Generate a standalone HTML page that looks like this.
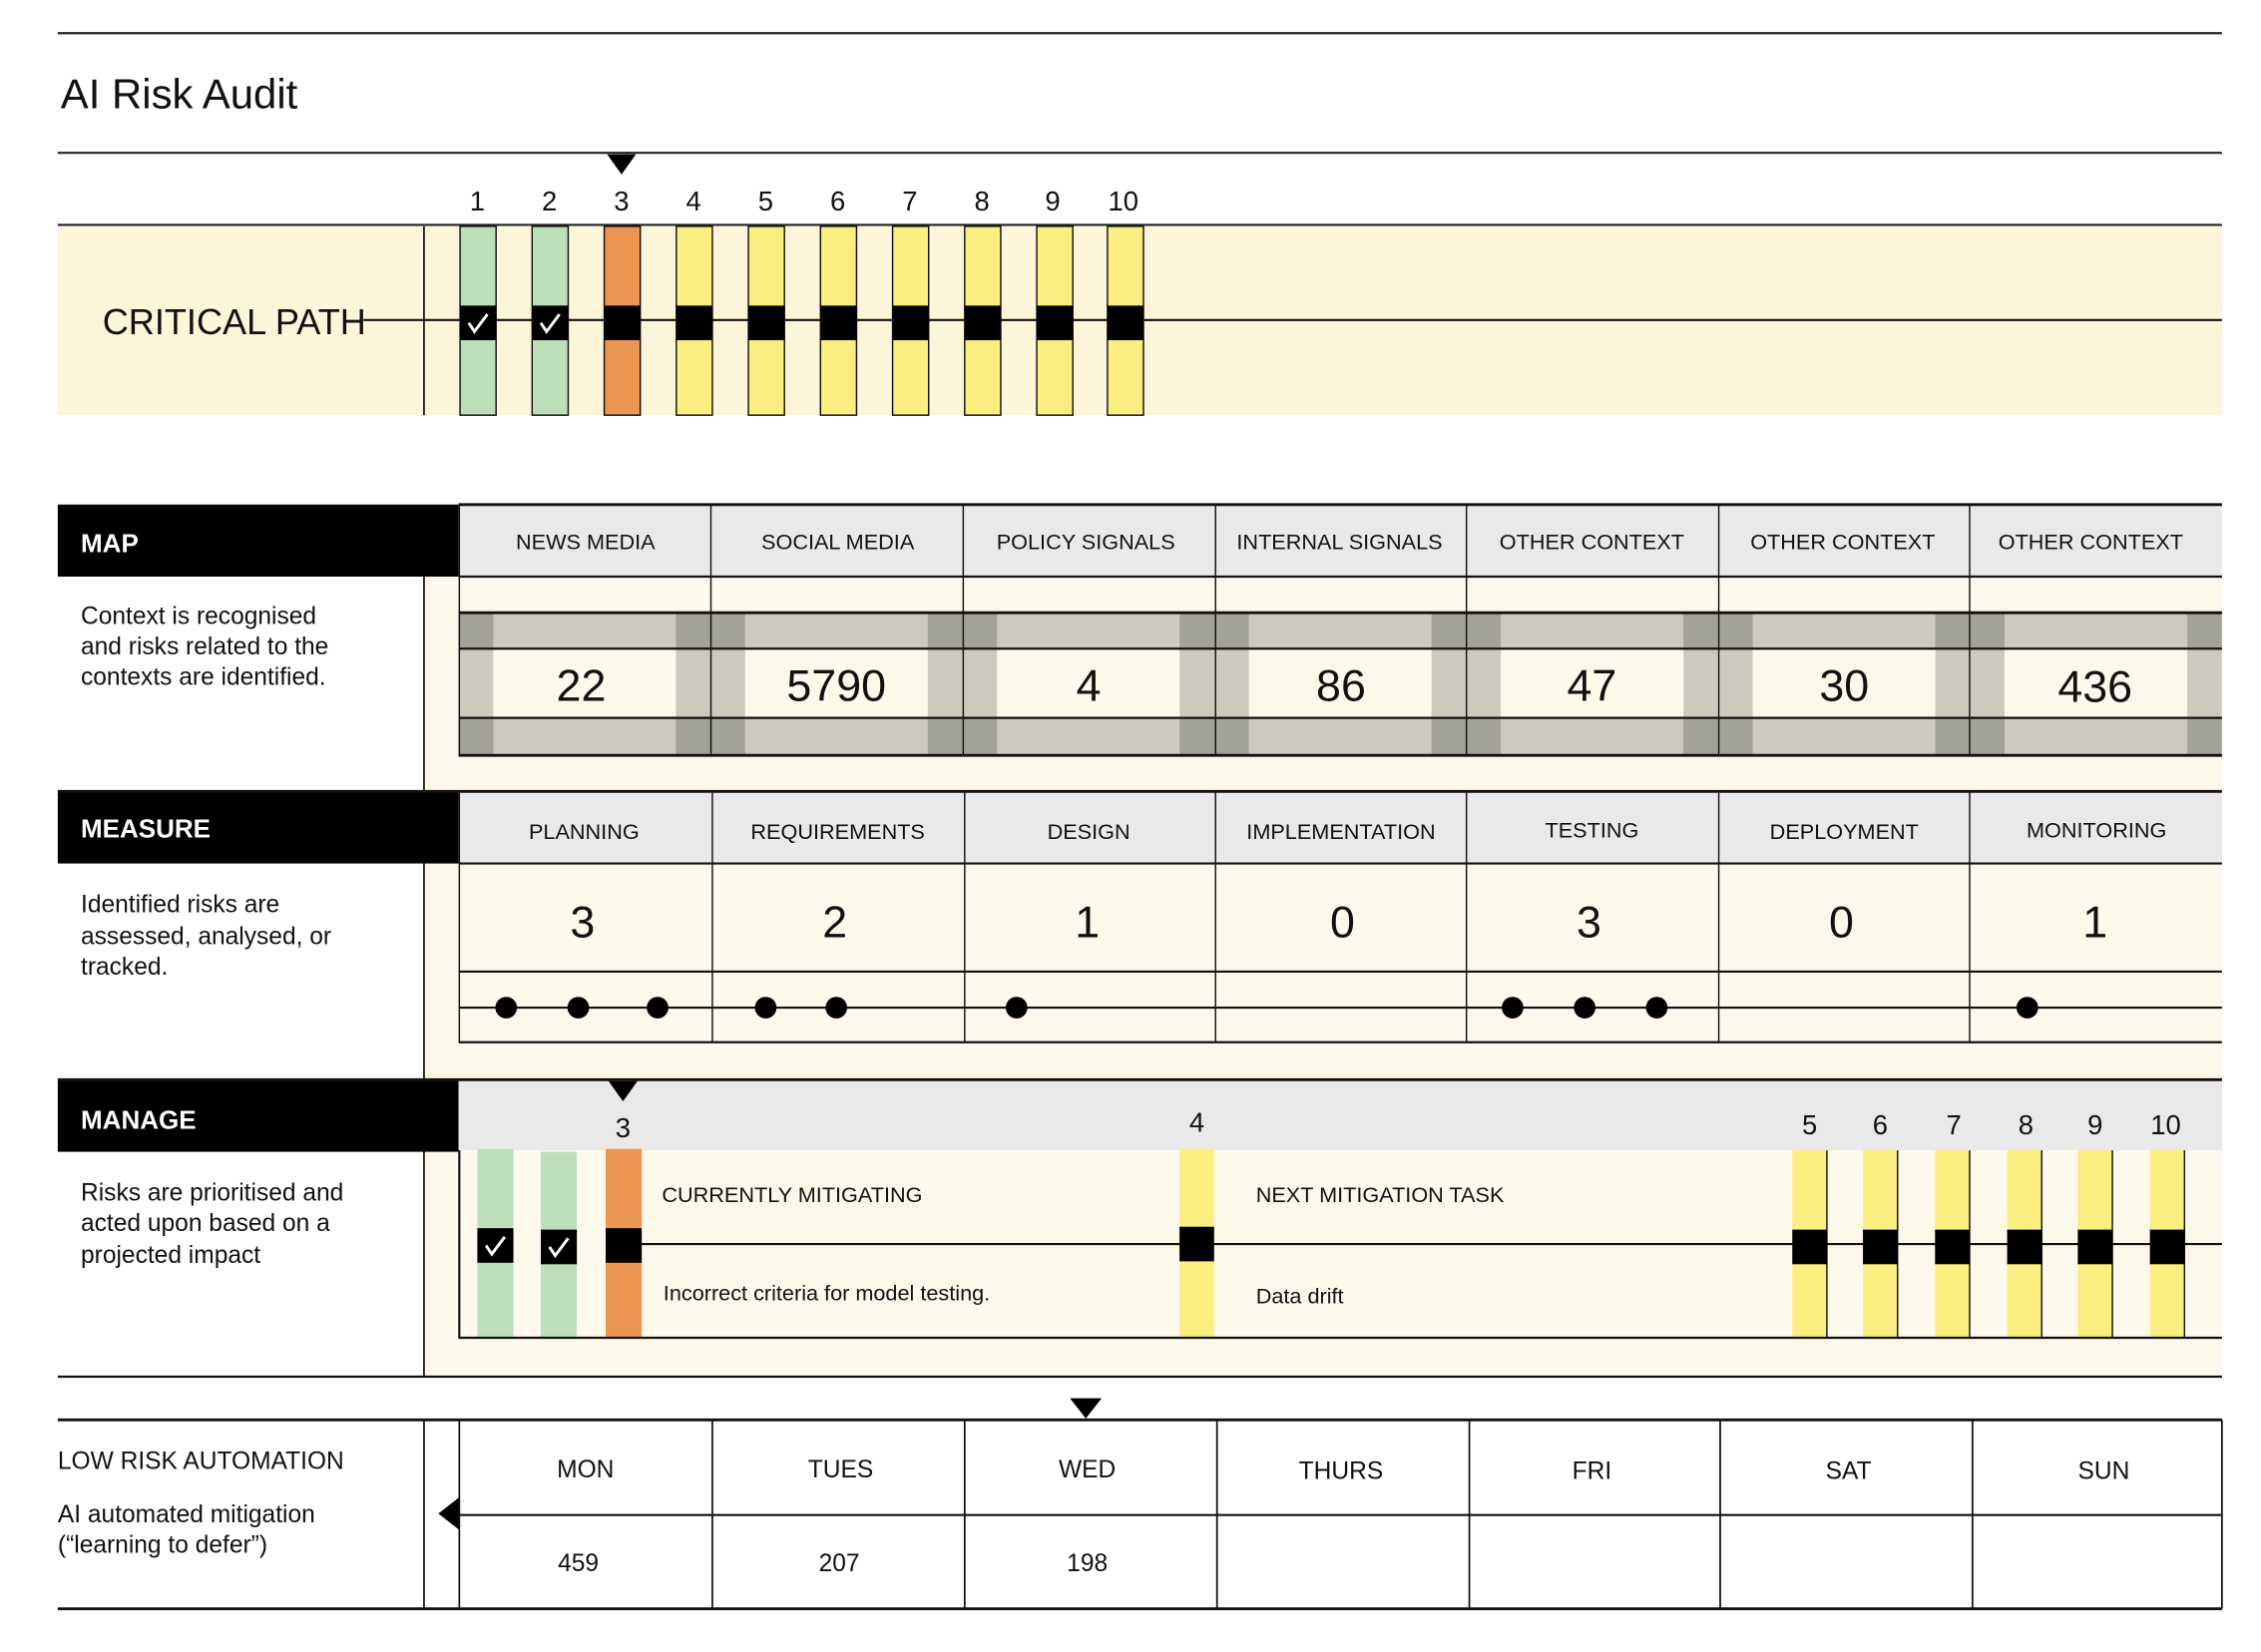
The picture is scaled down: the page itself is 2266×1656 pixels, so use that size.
<!DOCTYPE html>
<html><head><meta charset="utf-8"><style>
html,body{margin:0;padding:0;background:#fff}
svg{display:block}
text{font-family:"Liberation Sans",Arial,sans-serif;fill:#111}
</style></head><body>
<svg width="2266" height="1656" viewBox="0 0 1568 1146" xmlns="http://www.w3.org/2000/svg">
<defs>
<g id="mc">
<rect x="0" y="425" width="174.7" height="25" fill="#cccabc"/>
<rect x="0" y="425" width="24" height="25" fill="#a3a296"/>
<rect x="150.7" y="425" width="24" height="25" fill="#a3a296"/>
<rect x="0" y="450" width="24" height="48" fill="#cccabc"/>
<rect x="150.7" y="450" width="24" height="48" fill="#cccabc"/>
<rect x="0" y="498" width="174.7" height="26" fill="#cccabc"/>
<rect x="0" y="498" width="24" height="26" fill="#a3a296"/>
<rect x="150.7" y="498" width="24" height="26" fill="#a3a296"/>
</g>
</defs>
<rect width="1568" height="1146" fill="#fff"/>
<!-- top -->
<line x1="40" y1="23" x2="1541" y2="23" stroke="#222" stroke-width="1.5"/>
<text x="42" y="75" font-size="29">AI Risk Audit</text>
<line x1="40" y1="106" x2="1541" y2="106" stroke="#222" stroke-width="1.5"/>
<polygon points="421,107 441,107 431,121" fill="#000"/>
<g font-size="19" text-anchor="middle">
<text x="331" y="146">1</text><text x="381" y="146">2</text><text x="431" y="146">3</text><text x="481" y="146">4</text><text x="531" y="146">5</text><text x="581" y="146">6</text><text x="631" y="146">7</text><text x="681" y="146">8</text><text x="730" y="146">9</text><text x="779" y="146">10</text>
</g>
<line x1="40" y1="156" x2="1541" y2="156" stroke="#222" stroke-width="1.5"/>
<rect x="40" y="157" width="1501" height="131" fill="#fdf5d9"/>
<line x1="294" y1="157" x2="294" y2="288" stroke="#111" stroke-width="1.2"/>
<line x1="252" y1="222" x2="1541" y2="222" stroke="#111" stroke-width="1.5"/>
<text x="71" y="232" font-size="25">CRITICAL PATH</text>
<g stroke="#111" stroke-width="1">
<rect x="319" y="157" width="25" height="131" fill="#bcdfb9"/>
<rect x="369" y="157" width="25" height="131" fill="#bcdfb9"/>
<rect x="419" y="157" width="25" height="131" fill="#eb9552"/>
<rect x="469" y="157" width="25" height="131" fill="#fbee81"/>
<rect x="519" y="157" width="25" height="131" fill="#fbee81"/>
<rect x="569" y="157" width="25" height="131" fill="#fbee81"/>
<rect x="619" y="157" width="25" height="131" fill="#fbee81"/>
<rect x="669" y="157" width="25" height="131" fill="#fbee81"/>
<rect x="719" y="157" width="25" height="131" fill="#fbee81"/>
<rect x="768" y="157" width="25" height="131" fill="#fbee81"/>
</g>
<g fill="#000">
<rect x="319" y="212" width="25" height="24"/><rect x="369" y="212" width="25" height="24"/><rect x="419" y="212" width="25" height="24"/><rect x="469" y="212" width="25" height="24"/><rect x="519" y="212" width="25" height="24"/><rect x="569" y="212" width="25" height="24"/><rect x="619" y="212" width="25" height="24"/><rect x="669" y="212" width="25" height="24"/><rect x="719" y="212" width="25" height="24"/><rect x="768" y="212" width="25" height="24"/>
</g>
<path d="M325 224 l4 6 l9 -12 M375 224 l4 6 l9 -12" stroke="#fff" stroke-width="2" fill="none"/>

<!-- cream body area -->
<rect x="294" y="400" width="1247" height="555" fill="#fdf9ea"/>
<line x1="294" y1="400" x2="294" y2="955" stroke="#111" stroke-width="1.2"/>

<!-- MAP -->
<rect x="40" y="350" width="278" height="50" fill="#000"/>
<text x="56" y="383" font-size="18" font-weight="bold" style="fill:#fff">MAP</text>
<rect x="318" y="350" width="1223" height="50" fill="#e9e9e9"/>
<use href="#mc" x="318"/><use href="#mc" x="492.7"/><use href="#mc" x="667.4"/><use href="#mc" x="842.1"/><use href="#mc" x="1016.8"/><use href="#mc" x="1191.5"/><use href="#mc" x="1366.2"/>
<g stroke="#111">
<line x1="318" y1="350" x2="1541" y2="350" stroke-width="2"/>
<line x1="318" y1="400" x2="1541" y2="400" stroke-width="1.5"/>
<line x1="318" y1="425" x2="1541" y2="425" stroke-width="2"/>
<line x1="318" y1="450" x2="1541" y2="450" stroke-width="1.5"/>
<line x1="318" y1="498" x2="1541" y2="498" stroke-width="1.5"/>
<line x1="318" y1="524" x2="1541" y2="524" stroke-width="2"/>
<g stroke-width="1">
<line x1="318.5" y1="350" x2="318.5" y2="524"/><line x1="493" y1="350" x2="493" y2="524"/><line x1="668" y1="350" x2="668" y2="524"/><line x1="843" y1="350" x2="843" y2="524"/><line x1="1017" y1="350" x2="1017" y2="524"/><line x1="1192" y1="350" x2="1192" y2="524"/><line x1="1366" y1="350" x2="1366" y2="524"/>
</g>
</g>
<g font-size="15" text-anchor="middle">
<text x="406" y="381">NEWS MEDIA</text><text x="581" y="381">SOCIAL MEDIA</text><text x="753" y="381">POLICY SIGNALS</text><text x="929" y="381">INTERNAL SIGNALS</text><text x="1104" y="381">OTHER CONTEXT</text><text x="1278" y="381">OTHER CONTEXT</text><text x="1450" y="381">OTHER CONTEXT</text>
</g>
<g font-size="31" text-anchor="middle">
<text x="403" y="486">22</text><text x="580" y="486">5790</text><text x="755" y="486">4</text><text x="930" y="486">86</text><text x="1104" y="486">47</text><text x="1279" y="486">30</text><text x="1453" y="487">436</text>
</g>
<g font-size="17">
<text x="56" y="433">Context is recognised</text><text x="56" y="454">and risks related to the</text><text x="56" y="475">contexts are identified.</text>
</g>

<!-- MEASURE -->
<rect x="40" y="549" width="278" height="50" fill="#000"/>
<text x="56" y="581" font-size="18" font-weight="bold" style="fill:#fff">MEASURE</text>
<rect x="318" y="549" width="1223" height="50" fill="#e9e9e9"/>
<g stroke="#111">
<line x1="40" y1="549" x2="1541" y2="549" stroke-width="2"/>
<line x1="318" y1="599" x2="1541" y2="599" stroke-width="1.5"/>
<line x1="318" y1="674" x2="1541" y2="674" stroke-width="1.5"/>
<line x1="318" y1="699" x2="1541" y2="699" stroke-width="1.5"/>
<line x1="318" y1="723" x2="1541" y2="723" stroke-width="1.5"/>
<g stroke-width="1">
<line x1="318.5" y1="549" x2="318.5" y2="723"/><line x1="494" y1="549" x2="494" y2="723"/><line x1="669" y1="549" x2="669" y2="723"/><line x1="843" y1="549" x2="843" y2="723"/><line x1="1017" y1="549" x2="1017" y2="723"/><line x1="1192" y1="549" x2="1192" y2="723"/><line x1="1366" y1="549" x2="1366" y2="723"/>
</g>
</g>
<g font-size="15" text-anchor="middle">
<text x="405" y="582">PLANNING</text><text x="581" y="582">REQUIREMENTS</text><text x="755" y="582">DESIGN</text><text x="930" y="582">IMPLEMENTATION</text><text x="1104" y="581">TESTING</text><text x="1279" y="582">DEPLOYMENT</text><text x="1454" y="581">MONITORING</text>
</g>
<g font-size="31" text-anchor="middle">
<text x="404" y="650">3</text><text x="579" y="650">2</text><text x="754" y="650">1</text><text x="931" y="650">0</text><text x="1102" y="650">3</text><text x="1277" y="650">0</text><text x="1453" y="650">1</text>
</g>
<g fill="#000">
<circle cx="351" cy="699" r="7.5"/><circle cx="401" cy="699" r="7.5"/><circle cx="456" cy="699" r="7.5"/><circle cx="531" cy="699" r="7.5"/><circle cx="580" cy="699" r="7.5"/><circle cx="705" cy="699" r="7.5"/><circle cx="1049" cy="699" r="7.5"/><circle cx="1099" cy="699" r="7.5"/><circle cx="1149" cy="699" r="7.5"/><circle cx="1406" cy="699" r="7.5"/>
</g>
<g font-size="17">
<text x="56" y="633">Identified risks are</text><text x="56" y="655">assessed, analysed, or</text><text x="56" y="676">tracked.</text>
</g>

<!-- MANAGE -->
<rect x="40" y="749" width="278" height="50" fill="#000"/>
<text x="56" y="783" font-size="18" font-weight="bold" style="fill:#fff">MANAGE</text>
<rect x="318" y="749" width="1223" height="49" fill="#e9e9e9"/>
<line x1="40" y1="749" x2="1541" y2="749" stroke="#111" stroke-width="2"/>
<polygon points="422,750 442,750 432,764" fill="#000"/>
<g font-size="19" text-anchor="middle">
<text x="432" y="789">3</text><text x="830" y="785">4</text><text x="1255" y="787">5</text><text x="1304" y="787">6</text><text x="1355" y="787">7</text><text x="1405" y="787">8</text><text x="1453" y="787">9</text><text x="1502" y="787">10</text>
</g>
<rect x="331" y="797" width="25" height="131" fill="#bcdfb9"/>
<rect x="375" y="799" width="25" height="129" fill="#bcdfb9"/>
<rect x="420" y="797" width="25" height="131" fill="#eb9552"/>
<rect x="818" y="797" width="24" height="131" fill="#fbee81"/>
<g fill="#fbee81" stroke="#111" stroke-width="1">
<path d="M1243 798 h24 v130 h-24 z" stroke="none"/><line x1="1267" y1="798" x2="1267" y2="928"/>
<path d="M1292 798 h24 v130 h-24 z" stroke="none"/><line x1="1316" y1="798" x2="1316" y2="928"/>
<path d="M1342 798 h24 v130 h-24 z" stroke="none"/><line x1="1366" y1="798" x2="1366" y2="928"/>
<path d="M1392 798 h24 v130 h-24 z" stroke="none"/><line x1="1416" y1="798" x2="1416" y2="928"/>
<path d="M1441 798 h24 v130 h-24 z" stroke="none"/><line x1="1465" y1="798" x2="1465" y2="928"/>
<path d="M1491 798 h24 v130 h-24 z" stroke="none"/><line x1="1515" y1="798" x2="1515" y2="928"/>
</g>
<line x1="445" y1="863" x2="1541" y2="863" stroke="#111" stroke-width="1.5"/>
<g fill="#000">
<rect x="331" y="852" width="25" height="24"/><rect x="375" y="853" width="25" height="24"/><rect x="420" y="852" width="25" height="24"/><rect x="818" y="851" width="24" height="24"/>
<rect x="1243" y="853" width="24" height="24"/><rect x="1292" y="853" width="24" height="24"/><rect x="1342" y="853" width="24" height="24"/><rect x="1392" y="853" width="24" height="24"/><rect x="1441" y="853" width="24" height="24"/><rect x="1491" y="853" width="24" height="24"/>
</g>
<path d="M337 864 l4 6 l9 -12 M381 865 l4 6 l9 -12" stroke="#fff" stroke-width="2" fill="none"/>
<path d="M318.5 798 V928 H1541" stroke="#111" stroke-width="1.5" fill="none"/>
<g font-size="15">
<text x="459" y="834">CURRENTLY MITIGATING</text><text x="460" y="902">Incorrect criteria for model testing.</text>
<text x="871" y="834">NEXT MITIGATION TASK</text><text x="871" y="904">Data drift</text>
</g>
<g font-size="17">
<text x="56" y="833">Risks are prioritised and</text><text x="56" y="854">acted upon based on a</text><text x="56" y="876">projected impact</text>
</g>
<line x1="40" y1="955" x2="1541" y2="955" stroke="#111" stroke-width="1.5"/>

<!-- LOW RISK -->
<polygon points="742,970 764,970 753,984" fill="#000"/>
<g stroke="#111">
<line x1="40" y1="985" x2="1541" y2="985" stroke-width="2"/>
<line x1="318" y1="1051" x2="1541" y2="1051" stroke-width="1.5"/>
<line x1="40" y1="1116" x2="1541" y2="1116" stroke-width="2"/>
<g stroke-width="1.2">
<line x1="294" y1="985" x2="294" y2="1116"/><line x1="318.5" y1="985" x2="318.5" y2="1116"/><line x1="494" y1="985" x2="494" y2="1116"/><line x1="669" y1="985" x2="669" y2="1116"/><line x1="844" y1="985" x2="844" y2="1116"/><line x1="1019" y1="985" x2="1019" y2="1116"/><line x1="1193" y1="985" x2="1193" y2="1116"/><line x1="1368" y1="985" x2="1368" y2="1116"/><line x1="1541" y1="985" x2="1541" y2="1116"/>
</g>
</g>
<polygon points="318,1039 318,1061 304,1050" fill="#000"/>
<g font-size="17" text-anchor="middle">
<text x="406" y="1025">MON</text><text x="583" y="1025">TUES</text><text x="754" y="1025">WED</text><text x="930" y="1026">THURS</text><text x="1104" y="1026">FRI</text><text x="1282" y="1026">SAT</text><text x="1459" y="1026">SUN</text>
<text x="401" y="1090">459</text><text x="582" y="1090">207</text><text x="754" y="1090">198</text>
</g>
<g font-size="17">
<text x="40" y="1019">LOW RISK AUTOMATION</text><text x="40" y="1056">AI automated mitigation</text><text x="40" y="1077">(“learning to defer”)</text>
</g>
</svg>
</body></html>
